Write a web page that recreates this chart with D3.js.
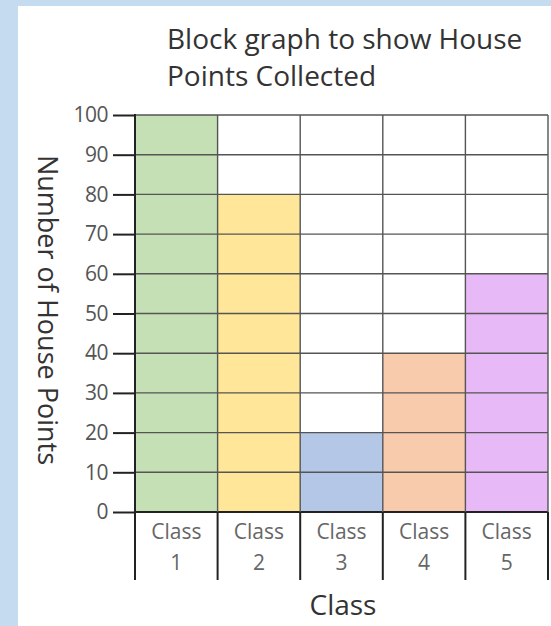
<!DOCTYPE html>
<html>
<head>
<meta charset="utf-8">
<script src="https://cdn.jsdelivr.net/npm/d3@7"></script>
<style>
  html, body { margin: 0; padding: 0; background: #c5dcf0; }
  svg { display: block; font-family: "Open Sans", "Noto Sans", sans-serif; }
</style>
</head>
<body>
<div id="chart"></div>
<script>
var classes = ["Class 1", "Class 2", "Class 3", "Class 4", "Class 5"];
var points = [100, 80, 20, 40, 60];
var barColors = ["#c5e0b4", "#ffe699", "#b4c7e7", "#f8cbad", "#e8b9f7"];
var yTicks = [0, 10, 20, 30, 40, 50, 60, 70, 80, 90, 100];
var titleLines = ["Block graph to show House", "Points Collected"];

var W = 551, H = 626;
var margin = { top: 115, right: 3, bottom: 114, left: 135 },
  width = W - margin.left - margin.right,
  height = H - margin.top - margin.bottom;

var svg = d3.select("#chart")
  .append("svg")
  .attr("width", W)
  .attr("height", H);

// white panel on the blue frame
svg.append("rect")
  .attr("x", 18).attr("y", 6)
  .attr("width", W - 18).attr("height", H - 6)
  .attr("fill", "#ffffff");

var g = svg.append("g")
  .attr("transform", "translate(" + margin.left + "," + margin.top + ")");

var x = d3.scaleBand().domain(classes).range([0, width]).padding(0);
var y = d3.scaleLinear().domain([0, 100]).range([height, 0]);

// bars
g.selectAll(".bar")
  .data(classes)
  .enter()
  .append("rect")
  .attr("class", "bar")
  .attr("x", function (d) { return x(d); })
  .attr("y", function (d, i) { return y(points[i]); })
  .attr("width", x.bandwidth())
  .attr("height", function (d, i) { return height - y(points[i]); })
  .attr("fill", function (d, i) { return barColors[i]; });

// horizontal grid
g.selectAll(".hgrid")
  .data(yTicks)
  .enter()
  .append("line")
  .attr("x1", 0).attr("x2", width)
  .attr("y1", function (d) { return y(d); })
  .attr("y2", function (d) { return y(d); })
  .attr("stroke", function (d) { return d === 0 ? "#222" : "#555"; })
  .attr("stroke-width", function (d) { return d === 0 ? 2 : 1.4; });

// vertical grid, column borders extend below the baseline
var edges = classes.map(function (d) { return x(d) + x.bandwidth(); });
g.selectAll(".vgrid")
  .data(edges)
  .enter()
  .append("line")
  .attr("x1", function (d) { return d; })
  .attr("x2", function (d) { return d; })
  .attr("y1", 0)
  .attr("y2", height)
  .attr("stroke", "#555")
  .attr("stroke-width", 1.4);

g.selectAll(".vtick")
  .data(edges)
  .enter()
  .append("line")
  .attr("x1", function (d) { return d; })
  .attr("x2", function (d) { return d; })
  .attr("y1", height)
  .attr("y2", height + 68)
  .attr("stroke", "#222")
  .attr("stroke-width", 2);

// y axis
var yAxis = g.append("g")
  .call(d3.axisLeft(y).tickValues(yTicks).tickSize(22).tickPadding(5));
yAxis.select(".domain").remove();
yAxis.selectAll(".tick line").attr("stroke", "#222").attr("stroke-width", 2);
yAxis.selectAll(".tick text")
  .attr("fill", "#555")
  .attr("font-size", 21)
  .attr("font-family", "'Open Sans', sans-serif")
  .attr("letter-spacing", "-0.5");

g.append("line")
  .attr("x1", 0).attr("x2", 0)
  .attr("y1", -1).attr("y2", height + 68)
  .attr("stroke", "#222")
  .attr("stroke-width", 2);

// x labels, two lines each
var xl = g.selectAll(".xlab")
  .data(classes)
  .enter()
  .append("text")
  .attr("x", function (d) { return x(d) + x.bandwidth() / 2; })
  .attr("y", height + 27)
  .attr("text-anchor", "middle")
  .attr("fill", "#666")
  .attr("font-size", 21);
xl.append("tspan")
  .attr("x", function (d) { return x(d) + x.bandwidth() / 2; })
  .text(function (d) { return d.split(" ")[0]; });
xl.append("tspan")
  .attr("x", function (d) { return x(d) + x.bandwidth() / 2; })
  .attr("dy", 31)
  .text(function (d) { return d.split(" ")[1]; });

// axis titles
svg.append("text")
  .attr("x", 343).attr("y", 615)
  .attr("text-anchor", "middle")
  .attr("fill", "#333")
  .attr("font-size", 28)
  .text("Class");

svg.append("text")
  .attr("transform", "translate(38,310) rotate(90)")
  .attr("text-anchor", "middle")
  .attr("fill", "#333")
  .attr("font-size", 27)
  .text("Number of House Points");

// title
svg.selectAll(".title")
  .data(titleLines)
  .enter()
  .append("text")
  .attr("x", 167)
  .attr("y", function (d, i) { return 49 + i * 37; })
  .attr("fill", "#333")
  .attr("font-size", 28)
  .text(function (d) { return d; });
</script>
</body>
</html>
